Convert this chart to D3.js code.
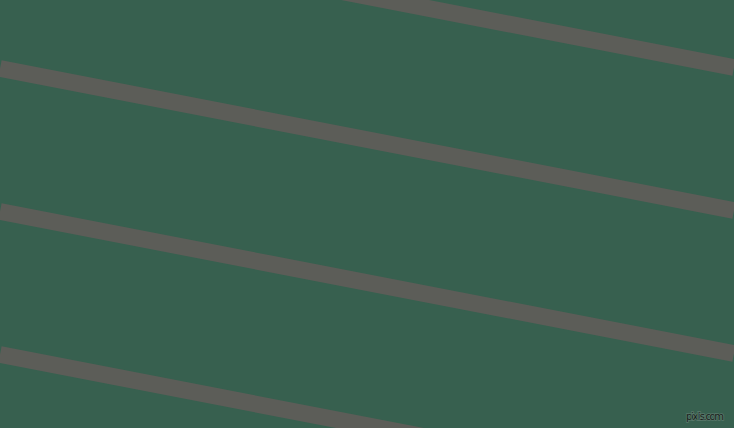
<!DOCTYPE html>
<html>
<head>
<meta charset="utf-8">
<script src="https://cdn.jsdelivr.net/npm/d3@7"></script>
<style>
  html, body { margin: 0; padding: 0; background: #37604f; overflow: hidden; }
  svg { display: block; }
</style>
</head>
<body>
<svg id="chart"></svg>
<script>
// stripe centre lines: y where each crosses the left and right edges
const stripeLeftY = [-74.5, 68.5, 211.5, 354.5];
const stripeRightY = [67.5, 210.5, 353.5, 496.5];
const stripeNames = ["s1", "s2", "s3", "s4"];

const width = 734;
const height = 428;

const svg = d3.select("#chart").attr("width", width).attr("height", height);

const x = d3.scaleLinear().domain([0, 1]).range([0, width]);
const y = d3.scaleLinear().domain([0, height]).range([0, height]);

// background
svg.append("rect")
  .attr("width", width)
  .attr("height", height)
  .attr("fill", "#37604f");

const stripes = stripeNames.map((name, i) => ({
  name,
  pts: [[0, stripeLeftY[i]], [1, stripeRightY[i]]]
}));

const line = d3.line()
  .x((d) => x(d[0]))
  .y((d) => y(d[1]));

svg.append("g")
  .selectAll("path")
  .data(stripes)
  .enter()
  .append("path")
  .attr("d", (d) => line(d.pts))
  .attr("stroke", "#5c5d58")
  .attr("stroke-width", 16.7)
  .attr("fill", "none");

// watermark: dark text with a soft light halo
svg.append("text")
  .attr("x", 724)
  .attr("y", 420)
  .attr("text-anchor", "end")
  .attr("font-family", "DejaVu Sans, sans-serif")
  .attr("font-size", 10)
  .attr("fill", "#1a1f1c")
  .attr("stroke", "#58786a")
  .attr("stroke-width", 1.6)
  .attr("paint-order", "stroke")
  .attr("textLength", 38)
  .text("pixlis.com");
</script>
</body>
</html>
